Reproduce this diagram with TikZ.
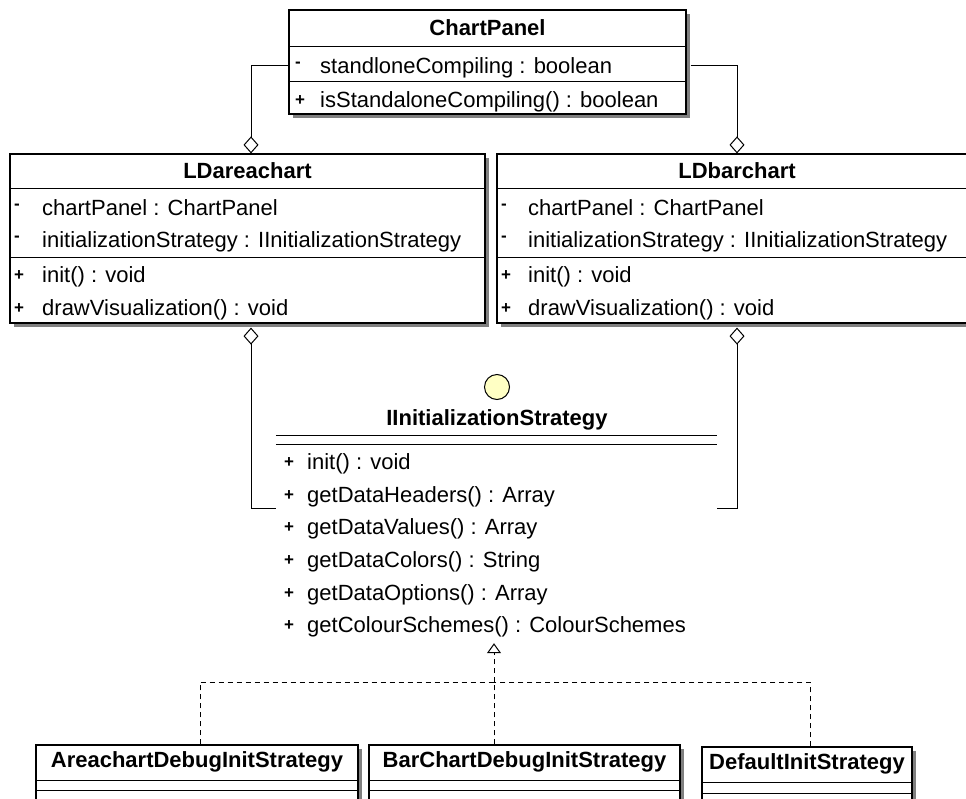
\documentclass[tikz,border=0pt]{standalone}
\usepackage{fontspec}
\setmainfont{Liberation Sans}
\usetikzlibrary{arrows.meta, shadows, positioning}
\definecolor{ifaceyellow}{RGB}{255, 255, 196}
\definecolor{shadowgray}{RGB}{128, 128, 128}
\tikzset{
  umlbox/.style={rectangle, draw=black, line width=1.2pt, fill=white, drop shadow={shadow xshift=4pt, shadow yshift=-4pt, fill=shadowgray, opacity=1}},
  compsep/.style={line width=1pt, black},
  classname/.style={anchor=base, inner sep=0pt, font=\fontsize{22}{26}\selectfont\bfseries},
  member/.style={anchor=base west, inner sep=0pt, font=\fontsize{22}{26}\selectfont},
  vis/.style={anchor=base west, inner sep=0pt, font=\fontsize{17}{20}\selectfont\bfseries},
  ifacemark/.style={circle, draw=black, line width=1pt, fill=ifaceyellow, minimum size=25pt, inner sep=0pt},
  aggr/.style={-{Diamond[open, length=17pt, width=15pt]}, line width=1pt},
  realize/.style={-{Triangle[open, length=10pt, width=14pt]}, dash pattern=on 5pt off 4pt, line width=1pt},
  depline/.style={dash pattern=on 5pt off 4pt, line width=1pt}
}
\begin{document}
\begin{tikzpicture}[x=1pt, y=-1pt]
  \path[use as bounding box] (0,0) rectangle (966,798);
  \clip (0,0) rectangle (966,798);

  % ChartPanel
  \node[umlbox, minimum width=397pt, minimum height=104pt] (chartpanel) at (487.5,62) {};
  \draw[compsep] (chartpanel.west |- 0,46) -- (chartpanel.east |- 0,46);
  \draw[compsep] (chartpanel.west |- 0,81) -- (chartpanel.east |- 0,81);
  \node[classname] (cptitle) at (chartpanel.north |- 0,35) {ChartPanel};
  \node[vis] (cpvisa) at (295,67) {-};
  \node[member] (cpattr) at (320,73) {standloneCompiling : boolean};
  \node[vis] (cpvism) at (295,105) {+};
  \node[member] (cpmeth) at (320,107) {isStandaloneCompiling() : boolean};

  % LDareachart
  \node[umlbox, minimum width=475pt, minimum height=169pt] (areachart) at (247.5,238.5) {};
  \draw[compsep] (areachart.west |- 0,188) -- (areachart.east |- 0,188);
  \draw[compsep] (areachart.west |- 0,257) -- (areachart.east |- 0,257);
  \node[classname] (actitle) at (areachart.north |- 0,178) {LDareachart};
  \node[vis] (acvisa) at (14,209) {-};
  \node[member] (acattra) at (42,215) {chartPanel : ChartPanel};
  \node[vis] (acvisb) at (14,241) {-};
  \node[member] (acattrb) at (42,247) {initializationStrategy : IInitializationStrategy};
  \node[vis] (acvisc) at (14,280) {+};
  \node[member] (acmetha) at (42,282) {init() : void};
  \node[vis] (acvisd) at (14,313) {+};
  \node[member] (acmethb) at (42,315) {drawVisualization() : void};

  % LDbarchart
  \node[umlbox, minimum width=480pt, minimum height=169pt] (barchart) at (737,238.5) {};
  \draw[compsep] (barchart.west |- 0,188) -- (barchart.east |- 0,188);
  \draw[compsep] (barchart.west |- 0,257) -- (barchart.east |- 0,257);
  \node[classname] (bctitle) at (barchart.north |- 0,178) {LDbarchart};
  \node[vis] (bcvisa) at (501,209) {-};
  \node[member] (bcattra) at (528,215) {chartPanel : ChartPanel};
  \node[vis] (bcvisb) at (501,241) {-};
  \node[member] (bcattrb) at (528,247) {initializationStrategy : IInitializationStrategy};
  \node[vis] (bcvisc) at (501,280) {+};
  \node[member] (bcmetha) at (528,282) {init() : void};
  \node[vis] (bcvisd) at (501,313) {+};
  \node[member] (bcmethb) at (528,315) {drawVisualization() : void};

  % IInitializationStrategy (interface, no frame)
  \node[minimum width=441pt, minimum height=270pt, inner sep=0pt] (iface) at (496.5,508) {};
  \node[ifacemark] (ifacecirc) at (497,387) {};
  \node[classname] (iftitle) at (497,425) {IInitializationStrategy};
  \draw[compsep] (iface.west |- 0,435) -- (iface.east |- 0,435);
  \draw[compsep] (iface.west |- 0,444) -- (iface.east |- 0,444);
  \foreach \yy/\txt [count=\i] in {469/init() : void, 502/getDataHeaders() : Array,
      534/getDataValues() : Array, 567/getDataColors() : String,
      600/getDataOptions() : Array, 632/getColourSchemes() : ColourSchemes} {
    \node[vis] (ifvis\i) at (284,\yy-2) {+};
    \node[member] (ifmeth\i) at (307,\yy) {\txt};
  }

  % implementing classes
  \node[umlbox, minimum width=322pt, minimum height=100pt] (areadebug) at (197,795) {};
  \draw[compsep] (areadebug.west |- 0,780) -- (areadebug.east |- 0,780);
  \draw[compsep] (areadebug.west |- 0,790) -- (areadebug.east |- 0,790);
  \node[classname] (adtitle) at (areadebug.north |- 0,767) {AreachartDebugInitStrategy};

  \node[umlbox, minimum width=311pt, minimum height=100pt] (bardebug) at (524.5,795) {};
  \draw[compsep] (bardebug.west |- 0,780) -- (bardebug.east |- 0,780);
  \draw[compsep] (bardebug.west |- 0,790) -- (bardebug.east |- 0,790);
  \node[classname] (bdtitle) at (bardebug.north |- 0,767) {BarChartDebugInitStrategy};

  \node[umlbox, minimum width=210pt, minimum height=100pt] (defaultinit) at (807,797) {};
  \draw[compsep] (defaultinit.west |- 0,782) -- (defaultinit.east |- 0,782);
  \draw[compsep] (defaultinit.west |- 0,793) -- (defaultinit.east |- 0,793);
  \node[classname] (dititle) at (defaultinit.north |- 0,769) {DefaultInitStrategy};

  % aggregations
  \draw[aggr] ([yshift=-3pt]chartpanel.west) -| ([xshift=3.5pt]areachart.north);
  \draw[aggr] ([xshift=4pt, yshift=-3pt]chartpanel.east) -| (barchart.north);
  \draw[aggr] (iface.west) -| ([xshift=3.5pt, yshift=-4pt]areachart.south);
  \draw[aggr] (iface.east) -| ([yshift=-4pt]barchart.south);

  % realizations
  \coordinate (fork) at (494,682);
  \draw[realize] (fork) -- (fork |- iface.south);
  \draw[depline] ([xshift=3pt]areadebug.north) |- (fork);
  \draw[depline] (fork |- bardebug.north) -- (fork);
  \draw[depline] ([xshift=3pt]defaultinit.north) |- (fork);
\end{tikzpicture}
\end{document}
